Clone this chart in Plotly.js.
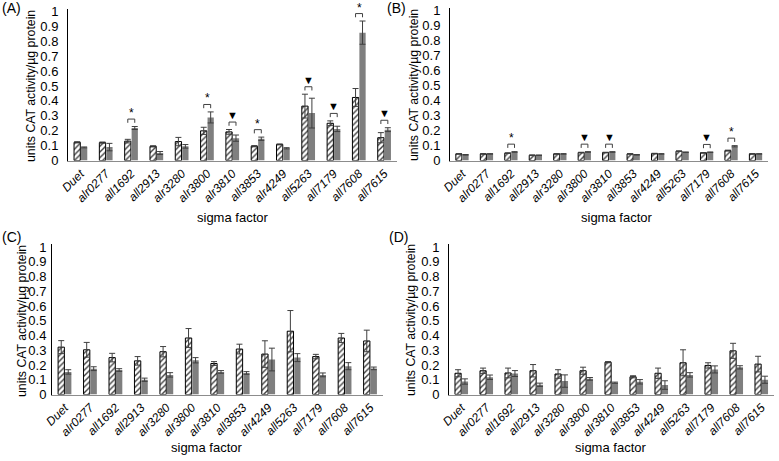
<!DOCTYPE html>
<html>
<head>
<meta charset="utf-8">
<script src="https://cdn.plot.ly/plotly-3.0.1.min.js"></script>
<style>html,body{margin:0;padding:0;background:#fff}#chart{width:779px;height:461px}</style>
</head>
<body>
<div id="chart"></div>
<script>
const categories = ['Duet','alr0277','all1692','all2913','alr3280','alr3800','alr3810','all3853','alr4249','all5263','all7179','all7608','all7615'];

// Panel A
const aHatched    = [0.122,0.120,0.130,0.095,0.127,0.199,0.192,0.096,0.108,0.365,0.250,0.423,0.153];
const aHatchedErr = [0.004,0.004,0.012,0.004,0.028,0.024,0.016,0.004,0.003,0.080,0.016,0.060,0.034];
const aSolid      = [0.088,0.090,0.218,0.050,0.095,0.289,0.150,0.146,0.082,0.318,0.212,0.858,0.207];
const aSolidErr   = [0.003,0.025,0.010,0.010,0.012,0.037,0.021,0.011,0.004,0.100,0.018,0.078,0.013];
const aSig        = ['','','*','','','*','▼','*','','▼','▼','*','▼'];

// Panel B
const bHatched    = [0.044,0.044,0.049,0.035,0.044,0.053,0.053,0.044,0.046,0.062,0.051,0.066,0.044];
const bHatchedErr = [0.002,0.002,0.002,0.002,0.002,0.002,0.002,0.002,0.002,0.002,0.002,0.003,0.002];
const bSolid      = [0.038,0.044,0.057,0.035,0.044,0.057,0.057,0.038,0.044,0.055,0.055,0.095,0.044];
const bSolidErr   = [0.002,0.002,0.002,0.002,0.002,0.002,0.002,0.002,0.002,0.002,0.002,0.004,0.002];
const bSig        = ['','','*','','','▼','▼','','','','▼','*',''];

// Panel C
const cHatched    = [0.321,0.303,0.250,0.228,0.290,0.383,0.210,0.308,0.274,0.429,0.257,0.383,0.363];
const cHatchedErr = [0.044,0.050,0.029,0.029,0.035,0.064,0.013,0.033,0.090,0.140,0.015,0.031,0.073];
const cSolid      = [0.153,0.175,0.166,0.100,0.133,0.232,0.153,0.146,0.237,0.250,0.133,0.192,0.177];
const cSolidErr   = [0.015,0.013,0.009,0.011,0.015,0.018,0.009,0.009,0.077,0.027,0.013,0.024,0.009];

// Panel D
const dHatched    = [0.144,0.161,0.146,0.161,0.139,0.161,0.219,0.120,0.144,0.215,0.197,0.296,0.206];
const dHatchedErr = [0.024,0.018,0.033,0.042,0.029,0.024,0.004,0.007,0.035,0.088,0.018,0.051,0.053];
const dSolid      = [0.088,0.117,0.142,0.066,0.091,0.106,0.080,0.086,0.064,0.133,0.170,0.184,0.100];
const dSolidErr   = [0.018,0.015,0.020,0.011,0.042,0.009,0.004,0.015,0.029,0.015,0.024,0.011,0.024];

const yTitle = 'units CAT activity/µg protein';
const xTitle = 'sigma factor';
const panelLabels = ['(A)','(B)','(C)','(D)'];

const W = 779, H = 461;
const FONT = 'Arial, "Liberation Sans", sans-serif';
const GRAY = '#7f7f7f';
const ERR = '#3f3f3f';

// panel geometry in pixels
const panels = [
  {x0: 68,  x1: 397, y0: 160.5, y1: 8.5, hat: aHatched, hatE: aHatchedErr, sol: aSolid, solE: aSolidErr, sig: aSig,
   so: 6, lx: 0, ly: 8, ytx: 31, yty: 86, xtx: 233, xty: 217},
  {x0: 450, x1: 768, y0: 160.5, y1: 7.5, hat: bHatched, hatE: bHatchedErr, sol: bSolid, solE: bSolidErr, sig: bSig,
   so: 6, lx: 385, ly: 8, ytx: 414, yty: 85, xtx: 616, xty: 217},
  {x0: 52,  x1: 383, y0: 394.5, y1: 244, hat: cHatched, hatE: cHatchedErr, sol: cSolid, solE: cSolidErr, sig: null,
   so: 2, lx: 0, ly: 237, ytx: 22, yty: 321, xtx: 207, xty: 447},
  {x0: 449, x1: 774, y0: 394.5, y1: 244, hat: dHatched, hatE: dHatchedErr, sol: dSolid, solE: dSolidErr, sig: null,
   so: 6, lx: 387, ly: 237, ytx: 411, yty: 320, xtx: 610, xty: 447}
];

const data = [];
const layout = {
  width: W, height: H,
  margin: {l: 0, r: 0, t: 0, b: 0},
  paper_bgcolor: '#fff', plot_bgcolor: '#fff',
  showlegend: false,
  barmode: 'group', bargap: 0.45, bargroupgap: 0.1,
  font: {family: FONT, color: '#000'},
  shapes: [], annotations: []
};

const YMAX = 1.02;
const half = (1 - 0.45) / 4; // bar center offset in category units

panels.forEach((p, k) => {
  const n = k === 0 ? '' : String(k + 1);
  const xa = 'x' + n, ya = 'y' + n;
  data.push({
    type: 'bar', x: categories, y: p.hat, xaxis: xa, yaxis: ya,
    marker: {color: '#fff', line: {color: '#000', width: 1},
             pattern: {shape: '/', fgcolor: '#404040', bgcolor: '#fff', size: 4, solidity: 0.35}},
    error_y: {type: 'data', array: p.hatE, visible: true, color: ERR, thickness: 1, width: 3},
    hoverinfo: 'skip'
  }, {
    type: 'bar', x: categories, y: p.sol, xaxis: xa, yaxis: ya,
    marker: {color: GRAY, line: {width: 0}},
    error_y: {type: 'data', array: p.solE, visible: true, color: ERR, thickness: 1, width: 3},
    hoverinfo: 'skip'
  });

  layout['xaxis' + n] = {
    domain: [p.x0 / W, p.x1 / W], anchor: ya,
    type: 'category', showline: true, linecolor: '#8c8c8c', linewidth: 1.5,
    ticks: '', showgrid: false, zeroline: false, automargin: false,
    tickmode: 'array', tickvals: categories, ticktext: categories.map(c => '<i>' + c + '</i>'),
    tickangle: -45, tickfont: {family: FONT, size: 12, color: '#000'}
  };
  layout['yaxis' + n] = {
    domain: [1 - p.y0 / H, 1 - p.y1 / H], anchor: xa, range: [0, YMAX],
    showline: true, linecolor: '#000', linewidth: 1,
    ticks: '', showgrid: false, zeroline: false, automargin: false,
    tick0: 0, dtick: 0.1, ticklabelstandoff: p.so,
    tickfont: {family: FONT, size: 13, color: '#000'}
  };
  layout.annotations.push({
    xref: 'paper', yref: 'paper', x: p.lx / W, y: 1 - p.ly / H,
    xanchor: 'left', yanchor: 'middle', showarrow: false, text: panelLabels[k],
    font: {family: FONT, size: 14, color: '#000'}
  }, {
    xref: 'paper', yref: 'paper', x: p.ytx / W, y: 1 - p.yty / H,
    xanchor: 'center', yanchor: 'middle', showarrow: false, text: yTitle, textangle: -90,
    font: {family: FONT, size: 12.3, color: '#000'}
  }, {
    xref: 'paper', yref: 'paper', x: p.xtx / W, y: 1 - p.xty / H,
    xanchor: 'center', yanchor: 'middle', showarrow: false, text: xTitle,
    font: {family: FONT, size: 13, color: '#000'}
  });

  if (p.sig) {
    p.sig.forEach((s, i) => {
      if (!s) return;
      const top = Math.max(p.hat[i] + p.hatE[i], p.sol[i] + p.solE[i]);
      const yb = top + 0.05, yl = yb - 0.025;
      const xL = i - half, xR = i + half;
      const ln = {color: '#404040', width: 1};
      layout.shapes.push(
        {type: 'line', xref: xa, yref: ya, x0: xL, x1: xR, y0: yb, y1: yb, line: ln},
        {type: 'line', xref: xa, yref: ya, x0: xL, x1: xL, y0: yl, y1: yb, line: ln},
        {type: 'line', xref: xa, yref: ya, x0: xR, x1: xR, y0: yl, y1: yb, line: ln}
      );
      layout.annotations.push({
        xref: xa, yref: ya, x: i, y: yb, xanchor: 'center', yanchor: 'bottom',
        showarrow: false, text: s, yshift: s === '*' ? -3 : -1,
        font: {family: FONT, size: s === '*' ? 12 : 11, color: '#000'}
      });
    });
  }
});

Plotly.newPlot('chart', data, layout, {staticPlot: true});
</script>
</body>
</html>
